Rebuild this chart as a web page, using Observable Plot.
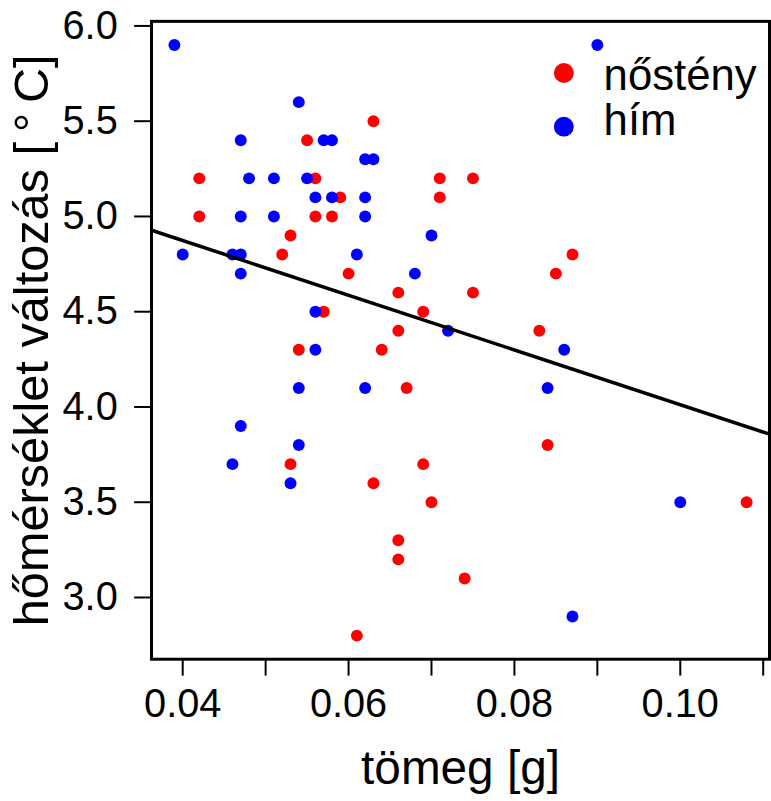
<!DOCTYPE html>
<html>
<head>
<meta charset="utf-8">
<script src="https://cdn.jsdelivr.net/npm/d3@7"></script>
<script src="https://cdn.jsdelivr.net/npm/@observablehq/plot@0.6"></script>
<style>
  html, body { margin: 0; padding: 0; background: white; overflow: hidden; }
  #chart { width: 771px; height: 801px; overflow: hidden; }
</style>
</head>
<body>
<div id="chart"></div>
<script>
// ---- data ----
const femaleMass = [0.063,0.055,0.042,0.056,0.071,0.059,0.071,0.042,0.056,0.058,0.053,0.052,0.060,0.066,0.057,0.069,0.066,0.054,0.064,0.067,0.053,0.069,0.063,0.070,0.066,0.066,0.061,0.075,0.087,0.085,0.075,0.083,0.084,0.108,0.074];
const femaleTemp = [5.5,5.4,5.2,5.2,5.2,5.1,5.1,5.0,5.0,5.0,4.9,4.8,4.7,4.6,4.5,4.5,4.4,4.3,4.3,4.1,3.7,3.7,3.6,3.5,3.3,3.2,2.8,5.2,4.8,4.7,4.6,4.4,3.8,3.5,3.1];
const maleMass = [0.039,0.054,0.047,0.057,0.058,0.062,0.063,0.048,0.051,0.055,0.056,0.058,0.062,0.047,0.051,0.062,0.070,0.040,0.046,0.047,0.061,0.047,0.068,0.056,0.072,0.056,0.054,0.062,0.047,0.054,0.046,0.053,0.090,0.086,0.084,0.100,0.087];
const maleTemp = [5.9,5.6,5.4,5.4,5.4,5.3,5.3,5.2,5.2,5.2,5.1,5.1,5.1,5.0,5.0,5.0,4.9,4.8,4.8,4.8,4.8,4.7,4.7,4.5,4.4,4.3,4.1,4.1,3.9,3.8,3.7,3.6,5.9,4.3,4.1,3.5,2.9];
const sexLabels = ["nőstény", "hím"];
const sexColors = ["#FF0000", "#0000FF"];
// fitted trend line: temp = intercept + slope * mass
const fitIntercept = 5.448;
const fitSlope = -14.36;
const xTicks = [0.04,0.05,0.06,0.07,0.08,0.09,0.10,0.11];
const xTickLabels = ["0.04","","0.06","","0.08","","0.10",""];
const yTicks = [3.0,3.5,4.0,4.5,5.0,5.5,6.0];
const xTitle = "tömeg [g]";
const yTitle = "hőmérséklet változás [\u2009°\u2009C]";

// ---- build table ----
const females = femaleMass.map((m, i) => ({mass: m, temp: femaleTemp[i], sex: sexLabels[0]}));
const males = maleMass.map((m, i) => ({mass: m, temp: maleTemp[i], sex: sexLabels[1]}));
const all = females.concat(males);

// R-style 4% axis extension
function extend(ext) { const p = (ext[1] - ext[0]) * 0.04; return [ext[0] - p, ext[1] + p]; }
const xDomain = extend(d3.extent(all, d => d.mass));
const yDomain = extend(d3.extent(all, d => d.temp));

const fit = xDomain.map(x => ({mass: x, temp: fitIntercept + fitSlope * x}));

const font = "'Liberation Sans', Arial, Helvetica, sans-serif";

const legendMarks = sexLabels.flatMap((lab, i) => [
  Plot.dot([lab], {frameAnchor: "top-left", dx: 415, dy: 52 + i * 54, r: 10, fill: sexColors[i], stroke: "none"}),
  Plot.text([lab], {frameAnchor: "top-left", dx: 455, dy: 55 + i * 45, text: d => d, textAnchor: "start", lineAnchor: "middle", fontSize: 44, fill: "black"})
]);

const chart = Plot.plot({
  width: 776,
  height: 801,
  marginLeft: 152,
  marginRight: 2,
  marginTop: 21,
  marginBottom: 138,
  style: {fontFamily: font, background: "white", overflow: "visible"},
  x: {domain: xDomain},
  y: {domain: yDomain},
  marks: [
    Plot.dot(females, {x: "mass", y: "temp", r: 6, fill: sexColors[0], stroke: "none"}),
    Plot.dot(males, {x: "mass", y: "temp", r: 6, fill: sexColors[1], stroke: "none"}),
    Plot.line(fit, {x: "mass", y: "temp", stroke: "black", strokeWidth: 3.5, clip: true}),
    Plot.axisX({ticks: xTicks, tickFormat: d => xTickLabels[xTicks.indexOf(d)], tickSize: 17, tickPadding: 13, fontSize: 40, strokeWidth: 2, label: null}),
    Plot.axisY({ticks: yTicks, tickFormat: d => d.toFixed(1), tickSize: 17, tickPadding: 17, fontSize: 40, strokeWidth: 2, label: null}),
    Plot.frame({stroke: "black", strokeWidth: 3}),
    Plot.text([xTitle], {frameAnchor: "bottom", dy: 110, text: d => d, fontSize: 48, lineAnchor: "middle", textAnchor: "middle", fill: "black"}),
    Plot.text([yTitle], {frameAnchor: "left", dx: -120, text: d => d, rotate: -90, fontSize: 49, lineAnchor: "middle", textAnchor: "middle", fill: "black"}),
    ...legendMarks
  ]
});
document.getElementById("chart").appendChild(chart);
</script>
</body>
</html>
